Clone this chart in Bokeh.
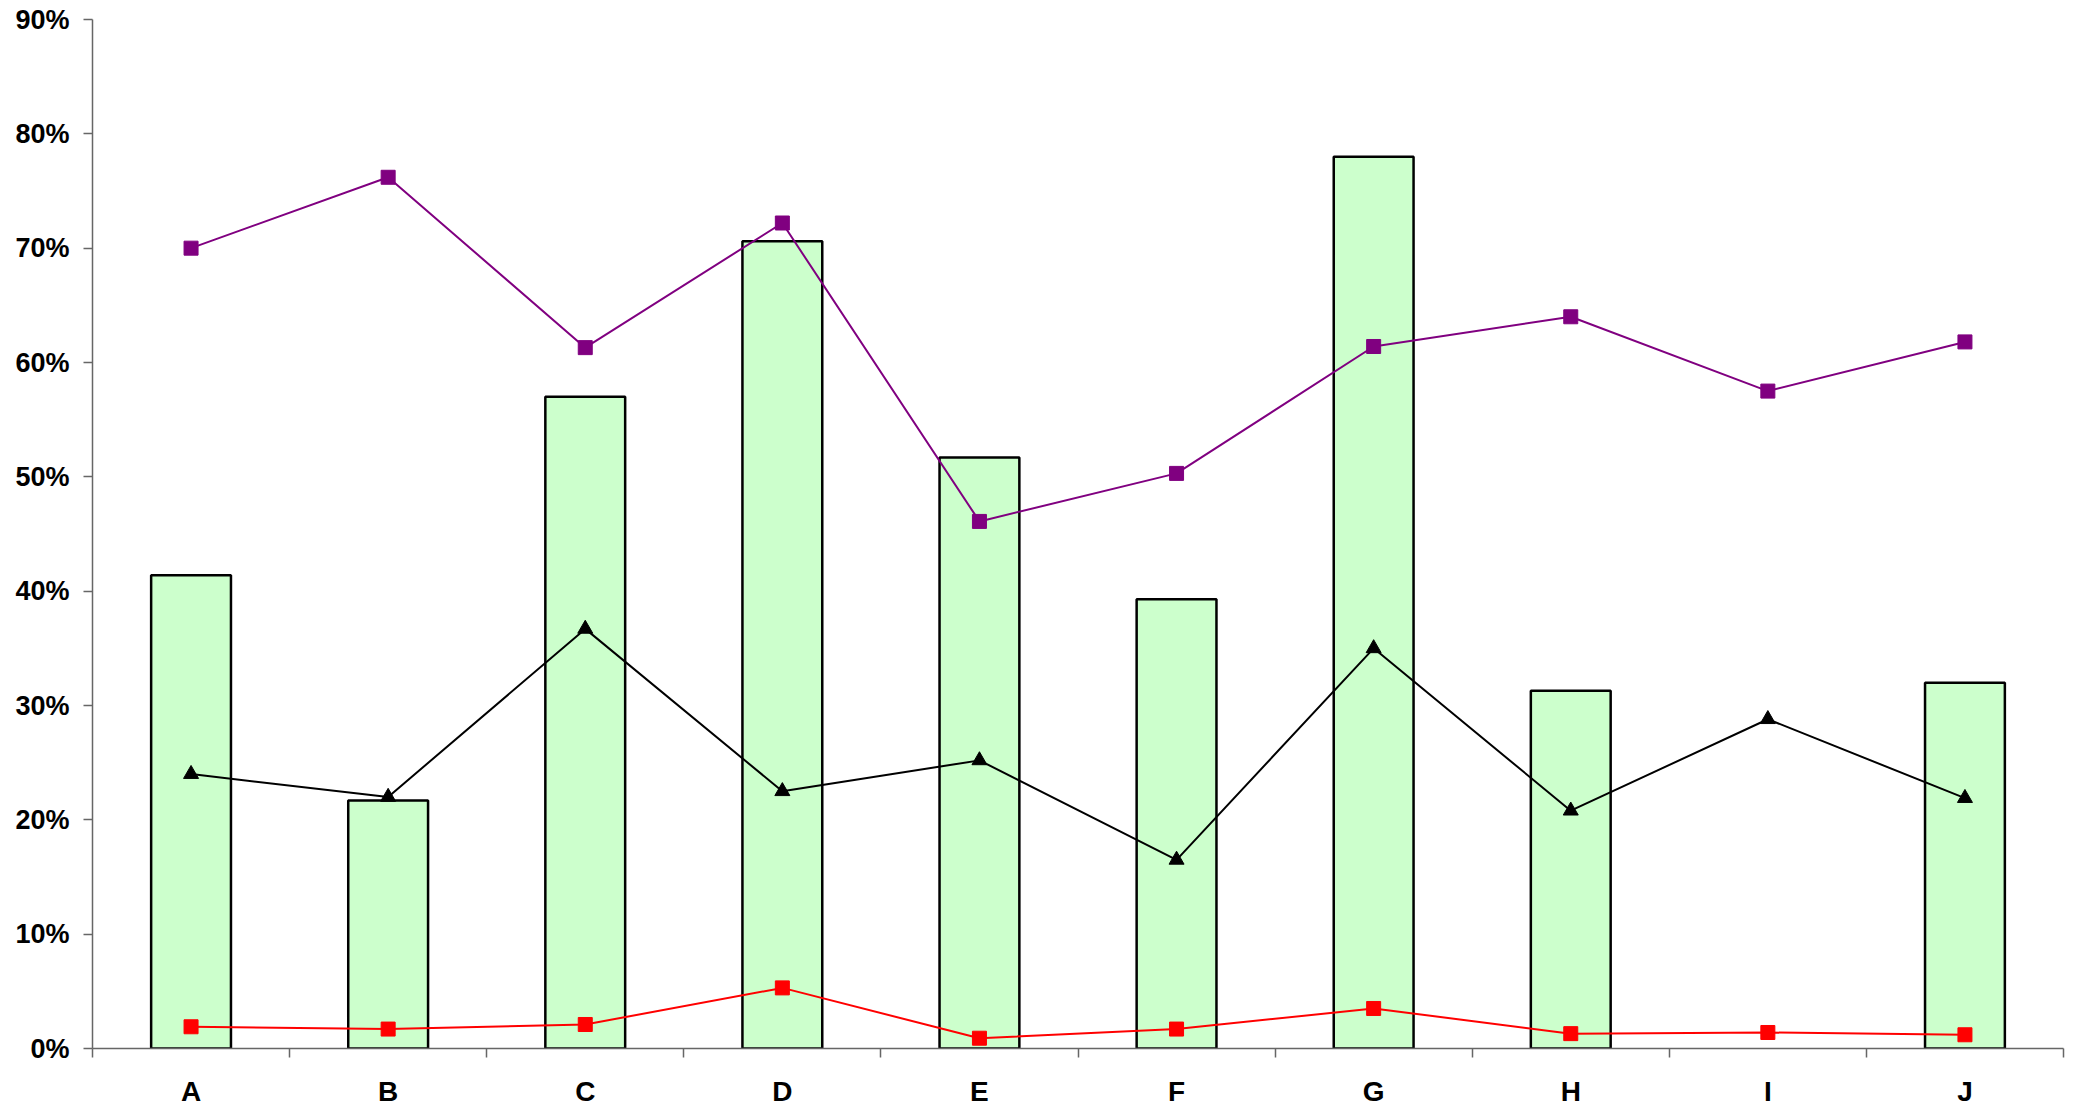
from bokeh.plotting import figure
from bokeh.models import FixedTicker, NumeralTickFormatter, Range1d
from bokeh.embed import file_html
from bokeh.resources import INLINE

categories = ["A", "B", "C", "D", "E", "F", "G", "H", "I", "J"]
bar_values = [0.414, 0.217, 0.570, 0.706, 0.517, 0.393, 0.780, 0.313, None, 0.320]
purple_values = [0.700, 0.762, 0.613, 0.722, 0.461, 0.503, 0.614, 0.640, 0.575, 0.618]
black_values = [0.240, 0.220, 0.367, 0.225, 0.252, 0.165, 0.350, 0.208, 0.288, 0.219]
red_values = [0.019, 0.017, 0.021, 0.053, 0.009, 0.017, 0.035, 0.013, 0.014, 0.012]
y_ticks = [0.0, 0.1, 0.2, 0.3, 0.4, 0.5, 0.6, 0.7, 0.8, 0.9]

n = len(categories)
xs = [i + 0.5 for i in range(n)]
bar_x = [x for x, v in zip(xs, bar_values) if v is not None]
bar_top = [v for v in bar_values if v is not None]

p = figure(frame_width=1971, frame_height=1029, output_backend="svg", toolbar_location=None,
           x_range=Range1d(0, n), y_range=Range1d(0, 0.9),
           min_border_left=92, min_border_right=7, min_border_top=19, min_border_bottom=40)
p.outline_line_color = None
p.xgrid.visible = False
p.ygrid.visible = False
p.background_fill_color = "white"
p.border_fill_color = "white"

p.vbar(x=bar_x, top=bar_top, bottom=0, width=0.405, fill_color="#CCFFCC",
       line_color="black", line_width=2.5)

p.line(xs, purple_values, line_color="#800080", line_width=2)
p.scatter(xs, purple_values, marker="square", size=14, fill_color="#800080", line_color="#800080")

p.line(xs, black_values, line_color="black", line_width=2)
p.scatter(xs, black_values, marker="triangle", size=15, fill_color="black", line_color="black")

p.line(xs, red_values, line_color="#FF0000", line_width=2)
p.scatter(xs, red_values, marker="square", size=14, fill_color="#FF0000", line_color="#FF0000")

font = "Liberation Sans"
ax = p.xaxis[0]
ax.ticker = FixedTicker(ticks=xs, minor_ticks=list(range(n + 1)))
ax.major_label_overrides = {x: c for x, c in zip(xs, categories)}
ax.major_tick_out = 0
ax.major_tick_in = 0
ax.minor_tick_out = 9
ax.minor_tick_in = 0
ax.minor_tick_line_color = "#666666"
ax.minor_tick_line_width = 1.5
ax.axis_line_color = "#666666"
ax.axis_line_width = 1.5
ax.major_label_text_font = font
ax.major_label_text_font_style = "bold"
ax.major_label_text_font_size = "28px"
ax.major_label_text_color = "black"
ax.major_label_standoff = 18

ay = p.yaxis[0]
ay.ticker = FixedTicker(ticks=y_ticks)
ay.formatter = NumeralTickFormatter(format="0%")
ay.major_tick_out = 9
ay.major_tick_in = 0
ay.minor_tick_out = 0
ay.minor_tick_in = 0
ay.major_tick_line_color = "#666666"
ay.major_tick_line_width = 1.5
ay.axis_line_color = "#666666"
ay.axis_line_width = 1.5
ay.major_label_text_font = font
ay.major_label_text_font_style = "bold"
ay.major_label_text_font_size = "27px"
ay.major_label_text_color = "black"
ay.major_label_standoff = 14

open("out.html", "w").write(file_html(p, INLINE))
